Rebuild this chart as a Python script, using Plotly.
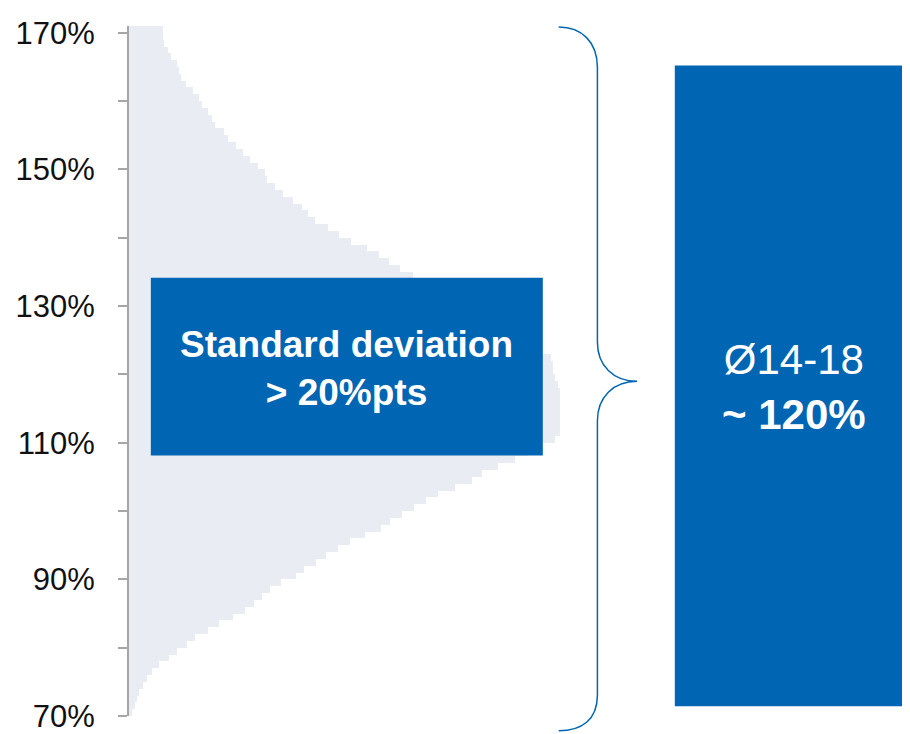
import plotly.graph_objects as go

# ---- data -------------------------------------------------------------
# histogram bins (lower edge, in %) and relative frequency (arbitrary units)
bin_start = list(range(70, 171))
freq = [
    3.3, 5.7, 7.7, 10.3, 14.3, 17.7, 22.7, 30, 40, 48,          # 70-79
    58, 66, 80, 91, 105, 117, 126, 134, 142, 153,               # 80-89
    168, 176, 188, 199, 211, 223, 238, 254, 263, 275,           # 90-99
    287, 299, 311, 328, 346, 356, 372, 389, 402, 415,           # 100-109
    429, 434, 434, 434, 434, 434, 434, 434, 432, 429,           # 110-119
    427, 427, 425, 416, 407, 397, 386, 374, 362, 350,           # 120-129
    337, 324, 311, 298, 286, 273, 262, 252, 240, 224,           # 130-139
    212, 201, 187, 180, 174, 165, 155, 147, 139, 137,           # 140-149
    130, 122, 115, 108, 100, 96, 87, 84, 80, 74,                # 150-159
    71, 64, 57, 52, 50, 48, 42, 39, 35, 34,                     # 160-169
    34,                                                         # 170
]
tick_vals = list(range(70, 171, 10))
tick_text = ["70%", "", "90%", "", "110%", "", "130%", "", "150%", "", "170%"]
box_text = "<b>Standard deviation<br>> 20%pts</b>"
side_text = "Ø14-18<br><b>~ 120%</b>"

# ---- layout constants -------------------------------------------------
W, H = 910, 734
OFF = 8                      # page body margin offset of the rendered figure
ML, MR, MT, MB = 123 - OFF, OFF, 18 - OFF, 17 + OFF
PW, PH = W - ML - MR, H - MT - MB
BLUE = "#0065B3"
GREY = "#E9EDF3"
FONT = "Liberation Sans, Arial, sans-serif"


def px(x):
    # screen pixel -> paper fraction
    return (x - OFF - ML) / PW


def py(y):
    return (H - MB - (y - OFF)) / PH


fig = go.Figure()
fig.add_trace(go.Bar(
    y=[b + 0.5 for b in bin_start],
    x=freq,
    orientation="h",
    width=1.0,
    marker=dict(color=GREY, line=dict(width=0)),
    hoverinfo="skip",
))

shapes = []
# central blue box
shapes.append(dict(type="rect", xref="paper", yref="paper",
                   x0=px(145), x1=px(540), y0=py(453), y1=py(273),
                   fillcolor=BLUE, line=dict(width=0), layer="above"))
# right blue rectangle
shapes.append(dict(type="rect", xref="paper", yref="paper",
                   x0=px(673), x1=px(908), y0=py(707), y1=py(58),
                   fillcolor=BLUE, line=dict(width=0), layer="above"))

# curly brace (path in paper coordinates)
pts = [
    ("M", [(556, 19)]),
    ("C", [(579, 19), (595, 34), (595, 60)]),
    ("L", [(595, 338)]),
    ("C", [(595, 362), (611, 378), (635, 378)]),
    ("C", [(611, 378), (595, 394), (595, 418)]),
    ("L", [(595, 696)]),
    ("C", [(595, 721), (579, 732), (556, 732)]),
]
path = ""
for cmd, coords in pts:
    path += cmd + " " + " ".join(f"{px(a):.5f},{py(b):.5f}" for a, b in coords) + " "
shapes.append(dict(type="path", xref="paper", yref="paper", path=path.strip(),
                   line=dict(color=BLUE, width=1.5), layer="above"))

annotations = [
    dict(xref="paper", yref="paper", x=px(342), y=py(365), text=box_text,
         showarrow=False, align="center", xanchor="center", yanchor="middle",
         font=dict(family=FONT, size=37, color="white")),
    dict(xref="paper", yref="paper", x=px(793), y=py(384), text=side_text,
         showarrow=False, align="center", xanchor="center", yanchor="middle",
         font=dict(family=FONT, size=42, color="white")),
]

fig.update_layout(
    width=W, height=H,
    margin=dict(l=ML, r=MR, t=MT, b=MB, pad=0),
    paper_bgcolor="white", plot_bgcolor="white",
    showlegend=False, bargap=0,
    shapes=shapes, annotations=annotations,
    xaxis=dict(visible=False, range=[0, PW], fixedrange=True),
    yaxis=dict(range=[70, 171], tickvals=tick_vals, ticktext=tick_text,
               ticks="outside", ticklen=9, tickwidth=2, tickcolor="#A6A6A6",
               showline=True, linecolor="#A6A6A6", linewidth=2,
               showgrid=False, zeroline=False, ticklabelstandoff=17,
               ticklabeloverflow="allow",
               tickfont=dict(family=FONT, size=31, color="#111111")),
)

fig.write_html("out.html")
